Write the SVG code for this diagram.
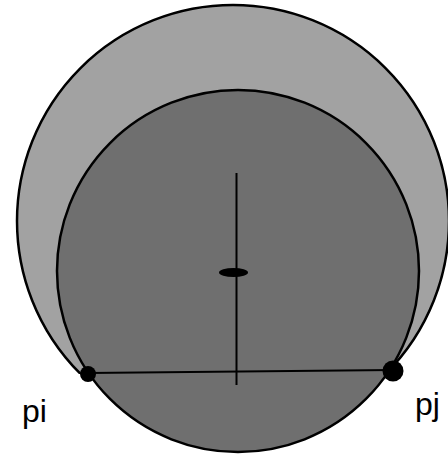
<svg xmlns="http://www.w3.org/2000/svg" width="448" height="457" viewBox="0 0 448 457">
<style>
.outline{stroke:#000;stroke-width:2.5}
.ln{stroke:#000;stroke-width:2;fill:none}
.lbl{font-family:"Liberation Sans",Arial,sans-serif;font-size:32px;fill:#000}
</style>
<defs>
<clipPath id="cutPi">
<polygon points="0,0 448,0 448,457 150,457 150,374 0,374"/>
</clipPath>
</defs>
<rect width="448" height="457" fill="#fff"/>
<g id="outer-circle">
<circle cx="233" cy="221" r="216" fill="#a2a2a2" class="outline" clip-path="url(#cutPi)"/>
</g>
<g id="inner-circle">
<circle cx="238" cy="271" r="181" fill="#6f6f6f" class="outline"/>
</g>
<g id="connectors">
<line x1="88" y1="373" x2="393" y2="370" class="ln"/>
<line x1="236.5" y1="173" x2="236.5" y2="385" class="ln" stroke-width="2.5"/>
</g>
<g id="center">
<ellipse cx="233.5" cy="272.5" rx="14.5" ry="4.5" fill="#000"/>
</g>
<g id="pi">
<circle cx="88" cy="374" r="8" fill="#000"/>
<text x="22" y="422" class="lbl">pi</text>
</g>
<g id="pj">
<circle cx="393" cy="371" r="10.5" fill="#000"/>
<text x="415" y="415" class="lbl">pj</text>
</g>
</svg>
